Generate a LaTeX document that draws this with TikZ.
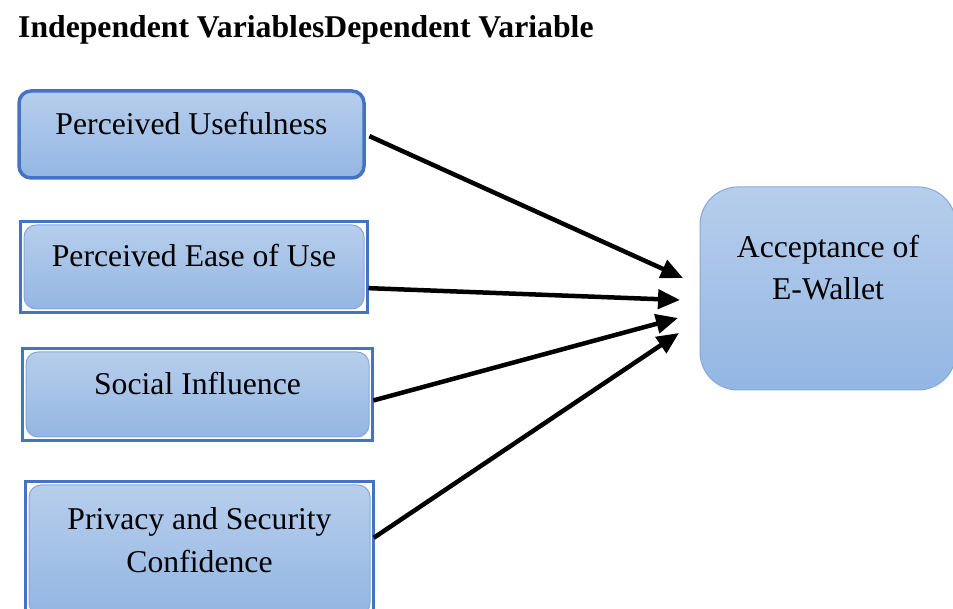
\documentclass[tikz,border=0pt]{standalone}
\usepackage{fontspec}
\setmainfont{Liberation Serif}
\usetikzlibrary{arrows.meta,positioning,calc}

\definecolor{frameblue}{RGB}{68,114,196}
\definecolor{edgeblue}{RGB}{132,168,220}
\definecolor{boxtop}{RGB}{183,206,236}
\definecolor{boxbot}{RGB}{147,182,227}

\begin{document}
\begin{tikzpicture}[
    x=1pt, y=1pt,
    every node/.style={font=\fontsize{31.7}{42}\selectfont},
    var/.style={rectangle, rounded corners=12pt, draw=edgeblue, line width=1pt,
                top color=boxtop, bottom color=boxbot, align=center,
                inner sep=0pt, text height=12pt, text depth=12pt},
    frame/.style={draw=frameblue, line width=2.5pt},
    arrow/.style={-{Triangle[length=22pt,width=19pt]}, line width=4.5pt, shorten <=4pt}
]
\useasboundingbox (0,0) rectangle (953,608);
\clip (0,0) rectangle (953,608);

% Heading
\node[anchor=base west, inner sep=0pt, font=\fontsize{31.7}{38}\selectfont\bfseries] (head) at (18,570) {Independent VariablesDependent Variable};

% Independent variables
\node[var, draw=frameblue, line width=3.5pt, minimum width=345pt, minimum height=87pt] (pu) at (191.5,473.5) {Perceived Usefulness};
\node[var, minimum width=340pt, minimum height=84pt] (peou) at (194,341) {Perceived Ease of Use};
\node[var, minimum width=343pt, minimum height=85pt] (si) at (197.5,213.5) {Social Influence};
\node[var, minimum width=341pt, minimum height=130pt, text height=60pt, text depth=16pt] (psc) at (199.5,58) {Privacy and Security\\Confidence};

\foreach \n in {peou,si,psc}
  \draw[frame] ([shift={(-3pt,3pt)}]\n.north west) rectangle ([shift={(3pt,-3pt)}]\n.south east);

% Dependent variable
\node[var, rounded corners=38pt, minimum width=256pt, minimum height=203pt, text height=50pt, text depth=27pt] (acc) at (828,319.5) {Acceptance of\\E-Wallet};

\coordinate (t1) at (683,330);
\coordinate (t2) at (680,308);
\coordinate (t3) at (678,290);
\coordinate (t4) at (679,275);

% Arrows
\draw[arrow] (pu.east) -- (t1);
\draw[arrow] ([yshift=-21pt]peou.east) -- (t2);
\draw[arrow] ([yshift=-7pt]si.east) -- (t3);
\draw[arrow] ([yshift=10pt]psc.east) -- (t4);

\end{tikzpicture}
\end{document}
